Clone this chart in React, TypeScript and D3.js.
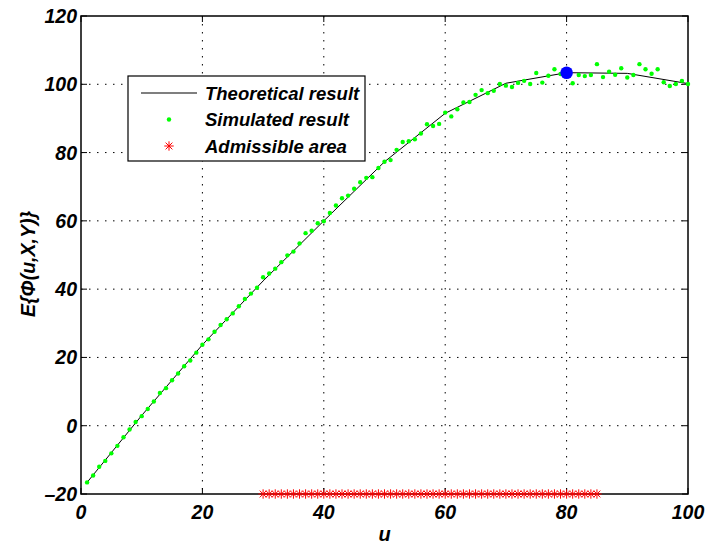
import React from 'react';
import * as d3 from 'd3';

// Theoretical curve (u, value)
const theoryU = [1, 10, 20, 30, 40, 50, 60, 70, 80, 90, 100];
const theoryV = [-16.6, 3.0, 23.7, 42.4, 60.0, 77.3, 91.5, 100.3, 103.4, 103.2, 100.2];

// Simulated result for u = 1..100
const simV = [
  -16.6, -14.6, -12.0, -10.3, -8.1, -5.9, -3.4, -1.1, 1.1, 2.8,
  4.9, 7.1, 9.6, 11.0, 13.3, 15.3, 17.4, 19.1, 21.4, 23.7,
  25.3, 27.5, 29.5, 31.2, 32.9, 35.0, 37.1, 38.7, 40.4, 43.5,
  44.6, 46.0, 47.9, 49.9, 51.0, 53.4, 56.4, 57.1, 59.3, 59.9,
  62.3, 64.5, 66.6, 67.4, 69.4, 71.3, 72.6, 72.8, 75.5, 77.3,
  77.8, 80.8, 83.1, 83.3, 83.9, 85.6, 88.3, 87.8, 88.4, 91.7,
  90.6, 92.7, 94.7, 94.8, 96.9, 98.3, 97.4, 98.1, 100.1, 99.6,
  99.2, 100.4, 101.0, 100.1, 103.3, 100.5, 102.5, 104.4, 103.0, 103.4,
  100.3, 102.7, 102.4, 102.7, 105.9, 102.1, 103.7, 102.8, 104.7, 102.0,
  102.7, 105.9, 104.4, 103.1, 104.4, 100.6, 99.5, 100.1, 101.0, 100.1,
];

// Optimum point
const optimumU = 80;
const optimumV = 103.4;

// Admissible area (u range on the bottom axis)
const admissibleStart = 30;
const admissibleEnd = 85;
const admissibleLevel = -20;

const xTicks = [0, 20, 40, 60, 80, 100];
const yTicks = [-20, 0, 20, 40, 60, 80, 100, 120];

const legendLabels = ['Theoretical result', 'Simulated result', 'Admissible area'];

const FONT = '"Liberation Sans", Arial, Helvetica, sans-serif';

function starPath(cx: number, cy: number, r: number) {
  const d = r * 0.72;
  return `M${cx - r},${cy}L${cx + r},${cy}M${cx},${cy - r}L${cx},${cy + r}` +
    `M${cx - d},${cy - d}L${cx + d},${cy + d}M${cx - d},${cy + d}L${cx + d},${cy - d}`;
}

const fmt = (v: number) => (v < 0 ? '\u2013' + Math.abs(v) : String(v));

export default function App() {
  const W = 710, H = 546;
  const left = 81, right = 688, top = 16, bottom = 494;
  const x = d3.scaleLinear().domain([0, 100]).range([left, right]);
  const y = d3.scaleLinear().domain([-20, 120]).range([bottom, top]);

  const theory = theoryU.map((u, i) => [u, theoryV[i]] as [number, number]);
  const line = d3.line<[number, number]>().x(d => x(d[0])).y(d => y(d[1]));
  const admissibleU = d3.range(admissibleStart, admissibleEnd + 1);
  const tickLen = 6;

  const legX = 128, legY = 76, legW = 237, legH = 85;

  return (
    <svg width={W} height={H} style={{ position: 'absolute', left: 0, top: 0, background: '#fff' }}
      fontFamily={FONT} fontWeight="bold" fontStyle="italic">
      <rect x={0} y={0} width={W} height={H} fill="#fff" />
      {/* grid */}
      {xTicks.filter(t => t > 0 && t < 100).map(t => (
        <line key={'gx' + t} x1={x(t)} x2={x(t)} y1={top} y2={bottom}
          stroke="#000" strokeWidth={1} strokeDasharray="1.5,6.5" />
      ))}
      {yTicks.filter(t => t > -20 && t < 120).map(t => (
        <line key={'gy' + t} x1={left} x2={right} y1={y(t)} y2={y(t)}
          stroke="#000" strokeWidth={1} strokeDasharray="1.5,6.5" />
      ))}
      {/* axes box */}
      <rect x={left} y={top} width={right - left} height={bottom - top} fill="none" stroke="#000" strokeWidth={1.5} />
      {/* ticks */}
      {xTicks.map(t => (
        <g key={'tx' + t}>
          <line x1={x(t)} x2={x(t)} y1={bottom} y2={bottom - tickLen} stroke="#000" />
          <line x1={x(t)} x2={x(t)} y1={top} y2={top + tickLen} stroke="#000" />
          <text x={x(t)} y={bottom + 24.5} textAnchor="middle" fontSize={19.5}>{fmt(t)}</text>
        </g>
      ))}
      {yTicks.map(t => (
        <g key={'ty' + t}>
          <line x1={left} x2={left + tickLen} y1={y(t)} y2={y(t)} stroke="#000" />
          <line x1={right} x2={right - tickLen} y1={y(t)} y2={y(t)} stroke="#000" />
          <text x={left - 4} y={y(t) + 7} textAnchor="end" fontSize={19.5}>{fmt(t)}</text>
        </g>
      ))}
      {/* axis labels */}
      <text x={(left + right) / 2} y={541} textAnchor="middle" fontSize={20}>u</text>
      <text transform={`translate(35,264) rotate(-90)`} textAnchor="middle" fontSize={19.5}>E{'{'}Φ(u,X,Y){'}'}</text>

      {/* theoretical line */}
      <path d={line(theory) || ''} fill="none" stroke="#000" strokeWidth={1} />
      {/* simulated */}
      {simV.map((v, i) => (
        <circle key={'s' + i} cx={x(i + 1)} cy={y(v)} r={2.2} fill="#00ff00" />
      ))}
      {/* optimum */}
      <circle cx={x(optimumU)} cy={y(optimumV)} r={6.3} fill="#0000ff" />
      {/* admissible area */}
      {admissibleU.map(u => (
        <path key={'a' + u} d={starPath(x(u), y(admissibleLevel), 4.7)} stroke="#ff0000" strokeWidth={1} fill="none" />
      ))}

      {/* legend */}
      <rect x={legX} y={legY} width={legW} height={legH} fill="#fff" stroke="#000" strokeWidth={1.2} />
      <line x1={141} x2={197} y1={93} y2={93} stroke="#000" strokeWidth={1.2} />
      <circle cx={169} cy={119.5} r={2.2} fill="#00ff00" />
      <path d={starPath(169, 146, 4.7)} stroke="#ff0000" strokeWidth={1} fill="none" />
      {legendLabels.map((lab, i) => (
        <text key={lab} x={205} y={99.5 + i * 26.5} fontSize={18.5}>{lab}</text>
      ))}
    </svg>
  );
}
